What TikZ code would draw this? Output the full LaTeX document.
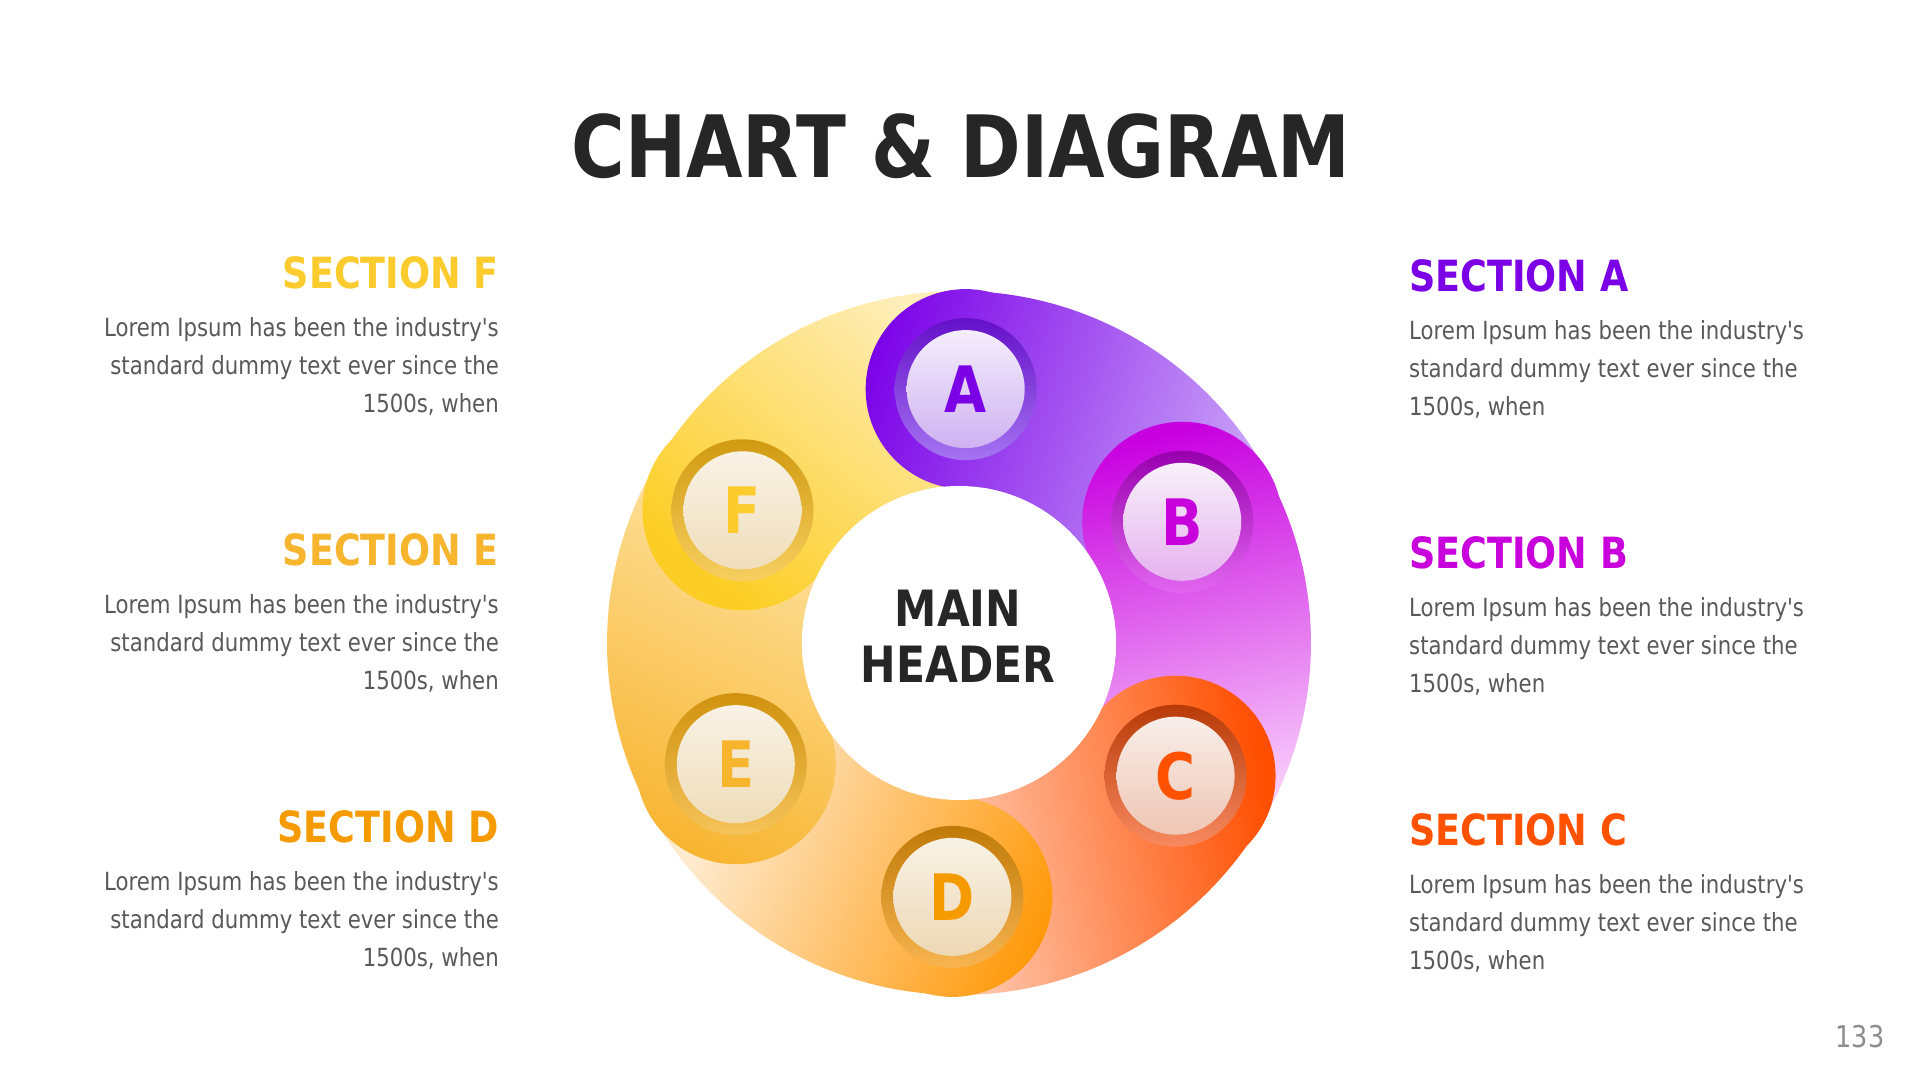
\documentclass[tikz,border=0pt]{standalone}
\usepackage{fontspec}
\setmainfont{DejaVu Sans}[FakeStretch=0.85,Ligatures=TeXOff]
\usetikzlibrary{calc}
\definecolor{titlegray}{HTML}{262626}
\definecolor{bodygray}{HTML}{595959}
\definecolor{pagegray}{HTML}{8C8C8C}
% text colours
\definecolor{tA}{HTML}{7B00E6}
\definecolor{tB}{HTML}{C800DC}
\definecolor{tC}{HTML}{FF5200}
\definecolor{tD}{HTML}{F59B00}
\definecolor{tE}{HTML}{F7B52E}
\definecolor{tF}{HTML}{FCCB2E}
% segment gradients
\definecolor{gA1}{HTML}{7A00E8}\definecolor{gA2}{HTML}{CCA6F8}
\definecolor{gB1}{HTML}{C800E0}\definecolor{gB2}{HTML}{F8CCFB}
\definecolor{gC1}{HTML}{FF4E00}\definecolor{gC2}{HTML}{FFCDB5}
\definecolor{gD1}{HTML}{FF9500}\definecolor{gD2}{HTML}{FEEBD0}
\definecolor{gE1}{HTML}{F7B128}\definecolor{gE2}{HTML}{FDDC90}
\definecolor{gF1}{HTML}{FCCE25}\definecolor{gF2}{HTML}{FEEEBA}
% badge rings and disks
\definecolor{rA1}{HTML}{6410C8}\definecolor{rA2}{HTML}{A574F2}
\definecolor{dA1}{HTML}{F4EEFC}\definecolor{dA2}{HTML}{CFB2F2}
\definecolor{rB1}{HTML}{9800AE}\definecolor{rB2}{HTML}{E266F0}
\definecolor{dB1}{HTML}{F8F0FA}\definecolor{dB2}{HTML}{E5B2EF}
\definecolor{rC1}{HTML}{B83A08}\definecolor{rC2}{HTML}{F88A60}
\definecolor{dC1}{HTML}{F8EEEA}\definecolor{dC2}{HTML}{EFC6B4}
\definecolor{rD1}{HTML}{C07A08}\definecolor{rD2}{HTML}{F8B450}
\definecolor{dD1}{HTML}{F8F2E6}\definecolor{dD2}{HTML}{EDD8B4}
\definecolor{rE1}{HTML}{D0920E}\definecolor{rE2}{HTML}{F5C35A}
\definecolor{dE1}{HTML}{F8F2E6}\definecolor{dE2}{HTML}{EFDDB8}
\definecolor{rF1}{HTML}{D09A10}\definecolor{rF2}{HTML}{F7CF60}
\definecolor{dF1}{HTML}{F8F2E6}\definecolor{dF2}{HTML}{F0DEBA}

% linear gradient from point (#1,#2) along angle #3 over length #4, colours #5 -> #6
\newcommand\gradfill[6]{%
  \begin{scope}[transform canvas={shift={(#1,#2)},rotate=#3}]
    \fill[fill=#5] (-900,-900) rectangle (1,900);
    \fill[fill=#6] (#4-1,-900) rectangle (#4+900,900);
    \shade[left color=#5,right color=#6] (0,-900) rectangle (#4,900);
  \end{scope}}

\tikzset{
  sechead/.style={font=\fontsize{43}{43}\selectfont\bfseries, inner sep=0pt},
  secbody/.style={font=\fontsize{25}{38}\selectfont, text=bodygray, inner sep=0pt},
  badgering/.style={circle, minimum size=142pt, inner sep=0pt},
  badgedisk/.style={circle, minimum size=118pt, inner sep=0pt,
                    font=\fontsize{64}{64}\selectfont\bfseries},
}

\begin{document}
\begin{tikzpicture}[x=1pt,y=1pt]
\useasboundingbox (0,0) rectangle (1920,1080);
\fill[white] (0,0) rectangle (1920,1080);
\coordinate (O) at (959,437);

% title
\node[font=\fontsize{86}{86}\selectfont\bfseries, text=titlegray, anchor=base, inner sep=0pt]
  (title) at (961,902) {CHART \& DIAGRAM};

% ring: tails (annular sectors)
\foreach \a/\px/\py/\ang/\len/\ca/\cb in {
   88.5/860/710/-18.4/411/gA1/gA2,
   28.5/1180/650/-77.5/369/gB1/gB2,
  -31.5/1265/310/190.2/340/gC1/gC2,
  -91.5/1040/100/156.2/372/gD1/gD2,
  208.5/640/220/65.0/331/gE1/gE2,
  148.5/690/520/51.1/334/gF1/gF2} {
  \begin{scope}
    \clip ([shift={(O)}]\a:352) arc[start angle=\a, end angle=\a-60, radius=352]
      -- ([shift={(O)}]\a-60:157) arc[start angle=\a-60, end angle=\a, radius=157] -- cycle;
    \gradfill{\px}{\py}{\ang}{\len}{\ca}{\cb}
  \end{scope}
}
% ring: heads
\foreach \a/\px/\py/\ang/\len/\ca/\cb in {
   88.5/860/710/-18.4/411/gA1/gA2,
   28.5/1180/650/-77.5/369/gB1/gB2,
  -31.5/1265/310/190.2/340/gC1/gC2,
  -91.5/1040/100/156.2/372/gD1/gD2,
  208.5/640/220/65.0/331/gE1/gE2,
  148.5/690/520/51.1/334/gF1/gF2} {
  \begin{scope}
    \clip ([shift={(O)}]\a:254) circle[radius=100];
    \gradfill{\px}{\py}{\ang}{\len}{\ca}{\cb}
  \end{scope}
}

% hub
\node[circle, fill=white, minimum size=314pt, inner sep=0pt] (hub) at (O) {};
\node[font=\fontsize{50}{50}\selectfont\bfseries, text=titlegray, anchor=base, inner sep=0pt]
  (mh1) at (958,453) {MAIN};
\node[font=\fontsize{50}{50}\selectfont\bfseries, text=titlegray, anchor=base, inner sep=0pt]
  (mh2) at (958,397) {HEADER};

% badges
\foreach \n/\a in {A/88.5, B/28.5, C/-31.5, D/-91.5, E/208.5, F/148.5} {
  \node[badgering, top color=r\n1, bottom color=r\n2] (r\n) at ([shift={(O)}]\a:254) {};
  \node[badgedisk, top color=d\n1, bottom color=d\n2, text=t\n] (b\n) at ([shift={(O)}]\a:254) {\n};
}

% right sections
\foreach \n/\y in {A/788, B/511.5, C/235} {
  \node[sechead, text=t\n, anchor=base west] (h\n) at (1409,\y) {SECTION \n};
  \node[secbody, anchor=base west] (\n1) at (1409,\y-48) {Lorem Ipsum has been the industry's};
  \node[secbody, anchor=base west] (\n2) at (1409,\y-86) {standard dummy text ever since the};
  \node[secbody, anchor=base west] (\n3) at (1409,\y-124) {1500s, when};
}
% left sections
\foreach \n/\y in {F/791, E/514.5, D/238} {
  \node[sechead, text=t\n, anchor=base east] (h\n) at (499,\y) {SECTION \n};
  \node[secbody, anchor=base east] (\n1) at (499,\y-48) {Lorem Ipsum has been the industry's};
  \node[secbody, anchor=base east] (\n2) at (499,\y-86) {standard dummy text ever since the};
  \node[secbody, anchor=base east] (\n3) at (499,\y-124) {1500s, when};
}

% page number
\node[font=\fontsize{30}{30}\selectfont, text=pagegray, anchor=base, inner sep=0pt] (pg) at (1860,33) {133};
\end{tikzpicture}
\end{document}
